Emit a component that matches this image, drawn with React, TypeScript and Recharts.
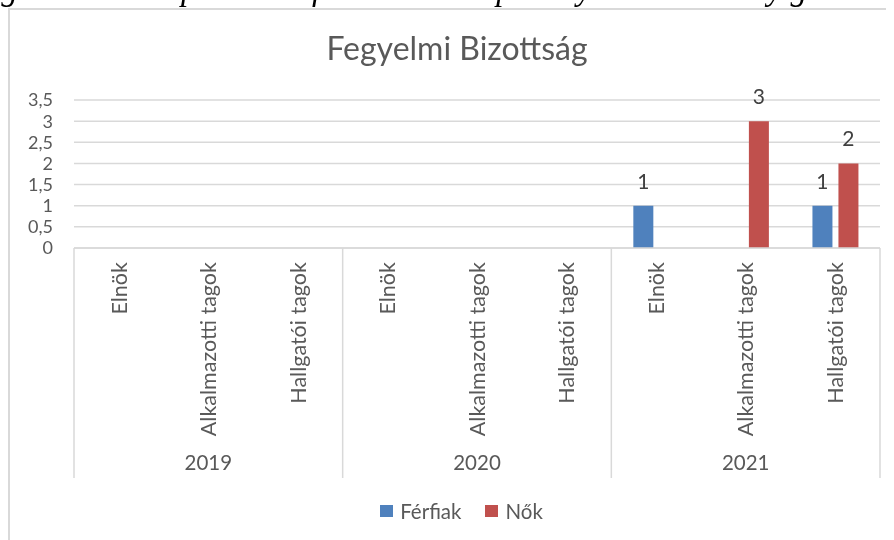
import React from 'react';
import { BarChart, Bar, XAxis, YAxis, CartesianGrid, LabelList, Legend } from 'recharts';

const years = ['2019', '2020', '2021'];
const roles = ['Elnök', 'Alkalmazotti tagok', 'Hallgatói tagok'];
const ferfiak: (number | null)[] = [null, null, null, null, null, null, 1, null, 1];
const nok: (number | null)[] = [null, null, null, null, null, null, null, 3, 2];
const yTicks = [0, 0.5, 1, 1.5, 2, 2.5, 3, 3.5];
const yearBounds = [0, 3, 6, 9];

const data = years.flatMap((y, yi) =>
  roles.map((r, ri) => ({ year: y, role: r, ferfiak: ferfiak[yi * 3 + ri], nok: nok[yi * 3 + ri], sep: 0 }))
);

const FONT = 'Lato, "Open Sans", sans-serif';
const TEXT = '#595959';
const GRID = '#d9d9d9';

const RoleTick = (props: any) => {
  const { x, y, payload } = props;
  return (
    <text
      x={x}
      y={y + 13}
      transform={`rotate(-90, ${x}, ${y + 13})`}
      textAnchor="end"
      dy="0.36em"
      fill={TEXT}
      fontSize={21.5}
      fontFamily={FONT}
    >
      {payload.value}
    </text>
  );
};

const YearTick = (props: any) => {
  const { x, y, payload } = props;
  return (
    <text x={x} y={y + 20} textAnchor="middle" dy="0.36em" fill={TEXT} fontSize={20.5} fontFamily={FONT}>
      {payload.value}
    </text>
  );
};

const NoTick = () => <g />;

const renderLegend = (props: any) => {
  const { payload } = props;
  return (
    <div
      style={{
        display: 'flex',
        justifyContent: 'center',
        alignItems: 'center',
        fontFamily: FONT,
        fontSize: 20.5,
        color: TEXT,
        lineHeight: '24px',
      }}
    >
      {(payload || []).map((e: any, i: number) => (
        <div key={i} style={{ display: 'flex', alignItems: 'center', marginRight: i < payload.length - 1 ? 24 : 0 }}>
          <span style={{ width: 13, height: 12, background: e.color, marginRight: 7, display: 'inline-block' }} />
          <span>{e.value}</span>
        </div>
      ))}
    </div>
  );
};

export default function App() {
  return (
    <div
      style={{
        position: 'relative',
        width: 886,
        height: 532,
        boxSizing: 'border-box',
        borderTop: `2px solid ${GRID}`,
        borderLeft: `2px solid ${GRID}`,
        background: '#fff',
      }}
    >
      <svg style={{ position: 'fixed', left: 0, top: 0 }} width={894} height={10}>
        <text x={-28} y={-0.5} fontFamily='"Liberation Serif", serif' fontStyle="italic" fontSize={33} fill="#000">
          Figure 11: Composition of the SU Disciplinary Committee by gender
        </text>
      </svg>
      <BarChart
        width={884}
        height={530}
        data={data}
        margin={{ top: 90, right: 14, left: 0, bottom: 47 }}
        barGap={6}
        style={{ fontFamily: FONT }}
      >
        <CartesianGrid xAxisId="b" horizontal vertical={false} stroke={GRID} strokeWidth={1.5} />
        <XAxis
          xAxisId="a"
          type="number"
          dataKey="sep"
          domain={[0, 9]}
          allowDataOverflow
          ticks={yearBounds}
          height={1}
          tickSize={230}
          tick={<NoTick />}
          tickLine={{ stroke: GRID, strokeWidth: 1.5 }}
          axisLine={{ stroke: GRID, strokeWidth: 1.5 }}
        />
        <XAxis
          xAxisId="b"
          dataKey="role"
          height={194}
          interval={0}
          tick={<RoleTick />}
          tickLine={false}
          axisLine={false}
          tickSize={0}
          tickMargin={0}
        />
        <XAxis
          xAxisId="c"
          dataKey="year"
          allowDuplicatedCategory={false}
          height={50}
          interval={0}
          tick={<YearTick />}
          tickLine={false}
          axisLine={false}
          tickSize={0}
          tickMargin={0}
        />
        <YAxis
          width={64}
          domain={[0, 3.5]}
          ticks={yTicks}
          interval={0}
          axisLine={false}
          tickLine={false}
          tickSize={0}
          tickMargin={21}
          tickFormatter={(v: number) => String(v).replace('.', ',')}
          tick={{ fill: TEXT, fontSize: 18, fontFamily: FONT }}
        />
        <Legend
          verticalAlign="middle"
          align="center"
          layout="horizontal"
          content={renderLegend}
          wrapperStyle={{ top: 489, left: 0, width: 903 }}
        />
        <Bar xAxisId="b" dataKey="ferfiak" name="Férfiak" fill="#4f81bd" barSize={20} isAnimationActive={false}>
          <LabelList dataKey="ferfiak" position="top" offset={17} fill="#404040" fontSize={21} fontFamily={FONT} />
        </Bar>
        <Bar xAxisId="b" dataKey="nok" name="Nők" fill="#c0504d" barSize={20} isAnimationActive={false}>
          <LabelList dataKey="nok" position="top" offset={17} fill="#404040" fontSize={21} fontFamily={FONT} />
        </Bar>
      </BarChart>
      <svg style={{ position: 'absolute', left: 0, top: 0, pointerEvents: 'none' }} width={884} height={80}>
        <text x={447} y={50} textAnchor="middle" fill={TEXT} fontSize={32} fontFamily={FONT}>
          Fegyelmi Bizottság
        </text>
      </svg>
    </div>
  );
}
